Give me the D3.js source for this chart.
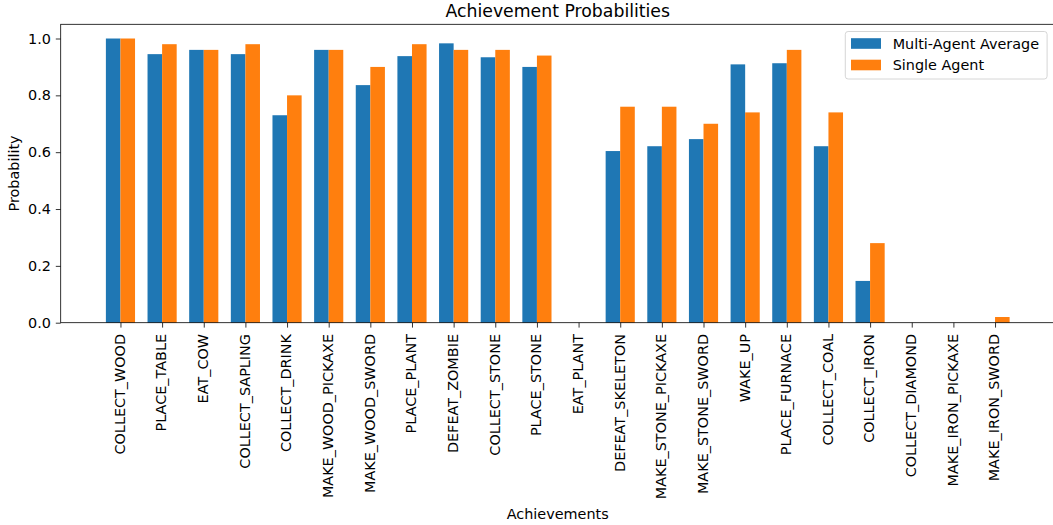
<!DOCTYPE html>
<html>
<head>
<meta charset="utf-8">
<script src="https://cdn.jsdelivr.net/npm/d3@7"></script>
<style>
  html, body { margin: 0; padding: 0; background: #fff; }
  svg { display: block; font-family: "DejaVu Sans", sans-serif; }
</style>
</head>
<body>
<svg id="chart" width="1053" height="525"></svg>
<script>
const categories = ["COLLECT_WOOD","PLACE_TABLE","EAT_COW","COLLECT_SAPLING","COLLECT_DRINK","MAKE_WOOD_PICKAXE","MAKE_WOOD_SWORD","PLACE_PLANT","DEFEAT_ZOMBIE","COLLECT_STONE","PLACE_STONE","EAT_PLANT","DEFEAT_SKELETON","MAKE_STONE_PICKAXE","MAKE_STONE_SWORD","WAKE_UP","PLACE_FURNACE","COLLECT_COAL","COLLECT_IRON","COLLECT_DIAMOND","MAKE_IRON_PICKAXE","MAKE_IRON_SWORD"];
const multiAgent = [1.0,0.945,0.96,0.945,0.73,0.96,0.836,0.938,0.983,0.934,0.90,0.0,0.604,0.621,0.646,0.909,0.913,0.621,0.147,0.0,0.0,0.0];
const singleAgent = [1.0,0.98,0.96,0.98,0.80,0.96,0.90,0.98,0.96,0.96,0.94,0.0,0.76,0.76,0.70,0.74,0.96,0.74,0.28,0.0,0.0,0.02];
const yTicks = [0.0,0.2,0.4,0.6,0.8,1.0];
const seriesNames = ["Multi-Agent Average","Single Agent"];
const colors = ["#1f77b4","#ff7f0e"];

(function () {
const barW = 0.35;
const L = 60.7, R = 1054.8, T = 24.3, B = 322.7;
const fs = 14.4;

const svg = d3.select("#chart");
const n = categories.length;
const x = d3.scaleLinear().domain([-1.435, n - 1 + 1.435]).range([L, R]);
const y = d3.scaleLinear().domain([0, 1.05]).range([B, T]);

// bars
const series = [multiAgent, singleAgent];
series.forEach((vals, s) => {
  svg.append("g").selectAll("rect").data(vals).join("rect")
    .attr("x", (d, i) => x(s === 0 ? i - barW : i))
    .attr("width", (d, i) => x(i + barW) - x(i))
    .attr("y", d => y(d))
    .attr("height", d => y(0) - y(d))
    .attr("fill", colors[s]);
});

// axes
const yAxis = d3.axisLeft(y).tickValues(yTicks).tickFormat(d3.format(".1f")).tickSize(4.9).tickPadding(4.9);
const gy = svg.append("g").attr("transform", `translate(${L},0)`).call(yAxis);
gy.select(".domain").remove();
gy.selectAll("line").attr("stroke", "#000").attr("stroke-width", 0.8);
gy.selectAll("text").attr("font-size", fs).attr("fill", "#000").attr("font-family", "DejaVu Sans");

const xAxis = d3.axisBottom(x).tickValues(d3.range(n)).tickFormat(i => categories[i]).tickSize(4.9).tickPadding(4.9);
const gx = svg.append("g").attr("transform", `translate(0,${B})`).call(xAxis);
gx.select(".domain").remove();
gx.selectAll("line").attr("stroke", "#000").attr("stroke-width", 0.8);
gx.selectAll("text")
  .attr("font-size", fs).attr("fill", "#000").attr("font-family", "DejaVu Sans")
  .attr("text-anchor", "end")
  .attr("transform", "rotate(-90)")
  .attr("x", -11.3)
  .attr("y", 0)
  .attr("dy", "0.27em");

// spines
svg.append("rect").attr("x", L).attr("y", T).attr("width", R - L).attr("height", B - T)
  .attr("stroke", "#000").attr("stroke-width", 0.8).attr("fill", "none");

// title & labels
svg.append("text").attr("x", (L + R) / 2).attr("y", 16.5)
  .attr("text-anchor", "middle").attr("font-size", 17.3).attr("fill", "#000")
  .text("Achievement Probabilities");
svg.append("text").attr("x", (L + R) / 2).attr("y", 518.5)
  .attr("text-anchor", "middle").attr("font-size", fs).attr("fill", "#000")
  .text("Achievements");
svg.append("text")
  .attr("transform", `translate(19,${(T + B) / 2}) rotate(-90)`)
  .attr("text-anchor", "middle").attr("font-size", fs).attr("fill", "#000")
  .text("Probability");

// legend
const lg = svg.append("g");
lg.append("rect").attr("x", 845.3).attr("y", 31.5).attr("width", 201.8).attr("height", 47.5)
  .attr("rx", 2.8).attr("fill", "#fff").attr("fill-opacity", 0.8)
  .attr("stroke", "#cccccc").attr("stroke-width", 0.8);
seriesNames.forEach((name, i) => {
  const cy = 43.5 + i * 21.5;
  lg.append("rect").attr("x", 851).attr("y", cy - 5.3).attr("width", 30).attr("height", 10.6).attr("fill", colors[i]);
  lg.append("text").attr("x", 892.7).attr("y", cy).attr("dy", "0.35em")
    .attr("font-size", fs).attr("fill", "#000").text(name);
});
})();
</script>
</body>
</html>
